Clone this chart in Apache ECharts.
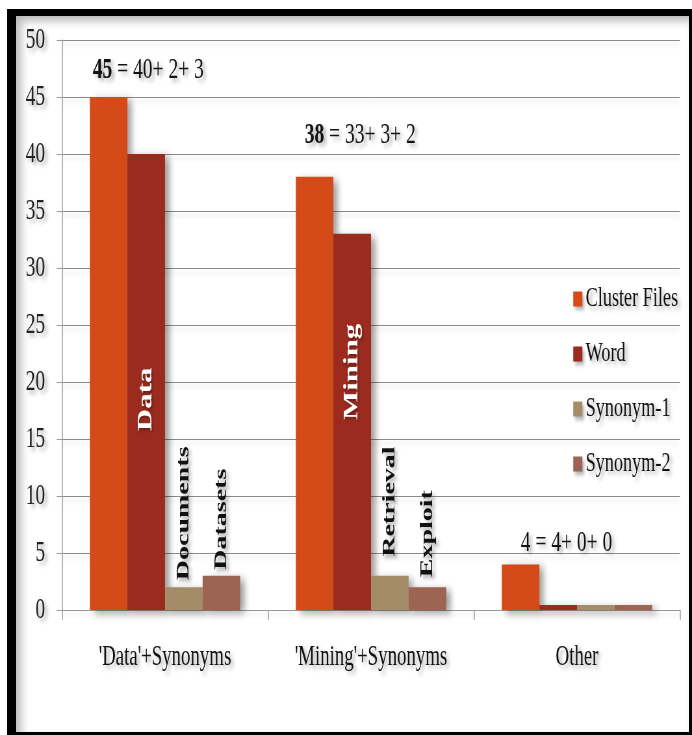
<!DOCTYPE html>
<html>
<head>
<meta charset="utf-8">
<script src="https://cdn.jsdelivr.net/npm/echarts@6/dist/echarts.min.js"></script>
<style>
  html, body { margin: 0; padding: 0; background: #fff; width: 692px; height: 735px; overflow: hidden; position: relative; }
  #chart { position: absolute; left: 0; top: 0; width: 1065px; height: 735px; transform-origin: 0 0; }
  #frame {
    position: absolute; left: 7px; top: 9px; width: 673px; height: 716px;
    border-style: solid; border-color: #000; border-width: 7px 3px 3px 9px;
    box-shadow: inset 5px 5px 9px rgba(0,0,0,0.28);
    pointer-events: none;
  }
</style>
</head>
<body>
<div id="chart"></div>
<div id="frame"></div>
<script>
// ---- data ----
const categories = ["'Data'+Synonyms", "'Mining'+Synonyms", "Other"];
const seriesNames = ['Cluster Files', 'Word', 'Synonym-1', 'Synonym-2'];
const clusterFiles = [45, 38, 4];
const word = [40, 33, 0];
const synonym1 = [2, 3, 0];
const synonym2 = [3, 2, 0];
const yMin = 0, yMax = 50, yStep = 5;

// breakdown captions above each group
const sumTotals = [45, 38, 4];
const sumParts = ['40+ 2+ 3', '33+ 3+ 2', '4+ 0+ 0'];

// term written on the bars
const wordTerms = ['Data', 'Mining', ''];
const synonym1Terms = ['Documents', 'Retrieval', ''];
const synonym2Terms = ['Datasets', 'Exploit', ''];

// ---- layout / styling ----
// the drawing is laid out wide and then squeezed horizontally
const SX = 692 / 1065;
document.getElementById('chart').style.transform = 'scaleX(' + SX + ')';

const colors = ['#D44B19', '#9B2B1F', '#A58C69', '#9D6353'];
const serif = '"Liberation Serif", "Times New Roman", serif';
const textShadow = {
  textShadowColor: 'rgba(0,0,0,0.35)', textShadowBlur: 5,
  textShadowOffsetX: 4, textShadowOffsetY: 3
};
const barShadow = {
  shadowColor: 'rgba(0,0,0,0.38)', shadowBlur: 9,
  shadowOffsetX: 7, shadowOffsetY: 3
};

const captionPos = [[3 / SX, -27], [9 / SX, -42], [19 / SX, -21]];
const captionBold = [true, true, false];
const wordTermPos = [['50%', '53.8%'], ['50%', '36.7%'], ['50%', '50%']];
const syn1Dist = [7, 19, 5];
const syn2Dist = [6, 10, 5];

const clusterData = clusterFiles.map((v, i) => ({
  value: v,
  label: {
    show: true,
    position: captionPos[i],
    align: 'left', verticalAlign: 'middle',
    formatter: () => '{t|' + sumTotals[i] + '} = ' + sumParts[i],
    fontFamily: serif, fontSize: 30, color: '#111',
    ...textShadow,
    rich: {
      t: {
        fontFamily: serif, fontSize: 30, color: '#111',
        fontWeight: captionBold[i] ? 'bold' : 'normal',
        ...textShadow
      }
    }
  }
}));

const wordData = word.map((v, i) => ({
  value: v,
  label: {
    show: wordTerms[i] !== '',
    position: wordTermPos[i],
    rotate: 90, align: 'center', verticalAlign: 'middle',
    formatter: () => wordTerms[i],
    fontFamily: serif, fontSize: 31, fontWeight: 'bold', color: '#fff',
    textShadowColor: 'rgba(0,0,0,0.3)', textShadowBlur: 3, textShadowOffsetX: 2, textShadowOffsetY: 2
  }
}));

function termData(values, terms, dists) {
  return values.map((v, i) => ({
    value: v,
    label: {
      show: terms[i] !== '',
      position: 'top', distance: dists[i],
      rotate: 90, align: 'left', verticalAlign: 'middle',
      formatter: () => terms[i],
      fontFamily: serif, fontSize: 28, fontWeight: 'bold', color: '#111',
      ...textShadow
    }
  }));
}

const baseSeries = {
  type: 'bar', barGap: '0%', barCategoryGap: '27%', barMinHeight: 5,
  itemStyle: { ...barShadow }
};

const chart = echarts.init(document.getElementById('chart'), null, { renderer: 'canvas' });
chart.setOption({
  animation: false,
  color: colors,
  grid: { left: 62 / SX, right: 12 / SX, top: 40, bottom: 125, containLabel: false },
  legend: {
    orient: 'vertical', left: 570 / SX, top: 279,
    itemWidth: 14, itemHeight: 15, itemGap: 25,
    icon: 'rect',
    data: seriesNames,
    itemStyle: { shadowColor: 'rgba(0,0,0,0.3)', shadowBlur: 4, shadowOffsetX: 3, shadowOffsetY: 3 },
    textStyle: { fontFamily: serif, fontSize: 28, lineHeight: 30, color: '#111', ...textShadow }
  },
  xAxis: {
    type: 'category', data: categories,
    axisLine: { lineStyle: { color: '#9a9a9a', width: 1 } },
    axisTick: { show: true, length: 10, lineStyle: { color: '#9a9a9a', width: 1.5 } },
    axisLabel: { margin: 33, fontFamily: serif, fontSize: 29, color: '#111', ...textShadow }
  },
  yAxis: {
    type: 'value', min: yMin, max: yMax, interval: yStep,
    axisLine: { show: true, lineStyle: { color: '#9a9a9a', width: 1.5 } },
    axisTick: { show: true, length: 8, lineStyle: { color: '#9a9a9a' } },
    splitLine: { lineStyle: { color: '#8a8a8a', width: 1, shadowColor: 'rgba(0,0,0,0.18)', shadowBlur: 5, shadowOffsetY: 4 } },
    axisLabel: { margin: 26, fontFamily: serif, fontSize: 30, color: '#222', ...textShadow }
  },
  series: [
    { ...baseSeries, name: seriesNames[0], data: clusterData },
    { ...baseSeries, name: seriesNames[1], data: wordData },
    { ...baseSeries, name: seriesNames[2], data: termData(synonym1, synonym1Terms, syn1Dist) },
    { ...baseSeries, name: seriesNames[3], data: termData(synonym2, synonym2Terms, syn2Dist) }
  ]
});
</script>
</body>
</html>
